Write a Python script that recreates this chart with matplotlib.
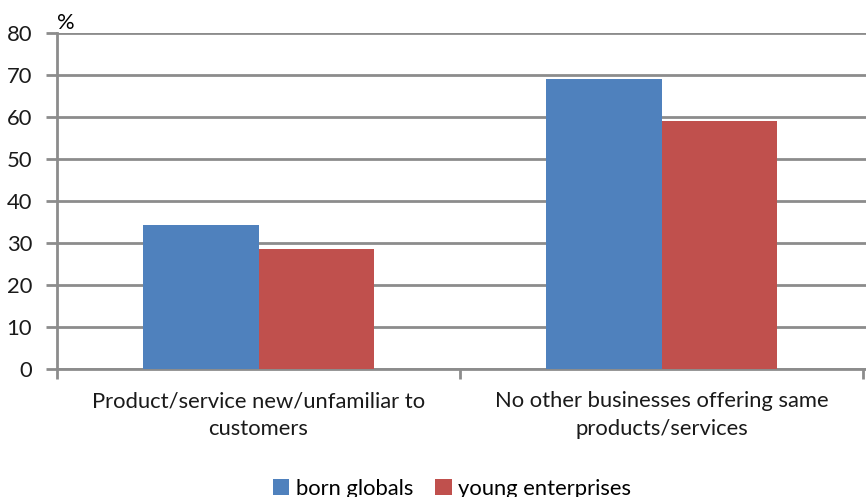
import numpy as np
import matplotlib
matplotlib.use('Agg')
import matplotlib.pyplot as plt

categories = ['Product/service new/unfamiliar to\ncustomers',
              'No other businesses offering same\nproducts/services']
born_globals = [34.3, 69.0]
young_enterprises = [28.5, 59.0]
yticks = [0, 10, 20, 30, 40, 50, 60, 70, 80]

plt.rcParams['font.family'] = ['Lato', 'DejaVu Sans']
fs = 15.8

fig = plt.figure(figsize=(8.66, 4.97), dpi=100)
ax = fig.add_axes([57 / 866, 128 / 497, 1 - 57 / 866, 336 / 497])

x = np.arange(len(categories))
w = 0.287
ax.bar(x - w / 2, born_globals, w, color='#4f81bd', label='born globals', zorder=3)
ax.bar(x + w / 2, young_enterprises, w, color='#c0504d', label='young enterprises', zorder=3)

ax.set_xlim(-0.5, 1.507)
ax.set_ylim(0, 80)
ax.set_yticks(yticks)
ax.yaxis.grid(True, color='#8c8c8c', linewidth=2, zorder=0)
ax.set_axisbelow(True)

ax.set_xticks(x)
ax.set_xticklabels(categories, fontsize=fs, color='#1a1a1a', linespacing=1.5)
ax.tick_params(axis='x', length=0, pad=16)
ax.set_xticks([-0.5, 0.5, 1.5], minor=True)
ax.tick_params(axis='x', which='minor', length=7, width=2, color='#8c8c8c')
ax.tick_params(axis='y', length=8, width=2, color='#8c8c8c', labelsize=fs, pad=10,
               labelcolor='#1a1a1a')

for s in ['top', 'right']:
    ax.spines[s].set_visible(False)
ax.spines['left'].set_color('#8c8c8c')
ax.spines['left'].set_linewidth(2)
ax.spines['bottom'].set_color('#8c8c8c')
ax.spines['bottom'].set_linewidth(2)

ax.text(0.0, 1.0, '%', transform=ax.transAxes, fontsize=fs, ha='left', va='bottom')

fig.legend(loc='lower center', bbox_to_anchor=(0.522, -0.043), ncol=2, frameon=False,
           fontsize=fs, handlelength=0.75, handleheight=0.75, handletextpad=0.3,
           columnspacing=1.0)

fig.savefig('out.png', dpi=100)
